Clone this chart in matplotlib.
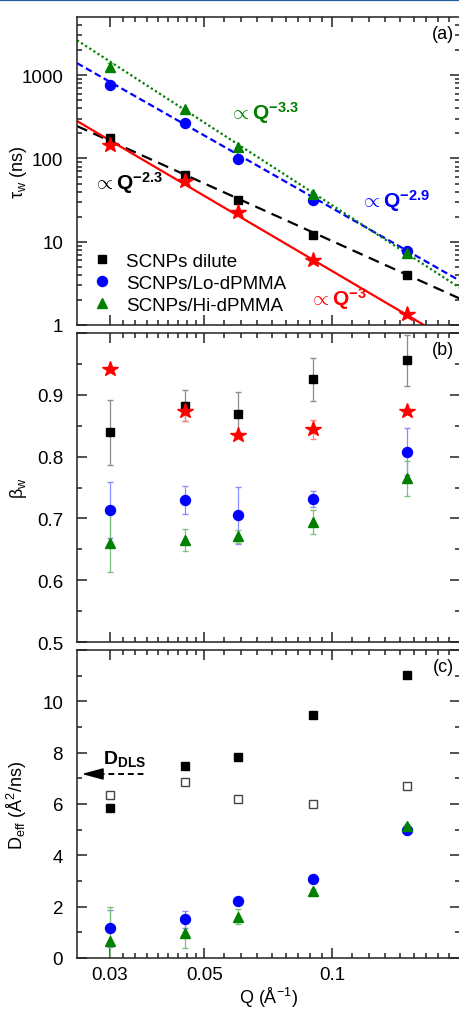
import numpy as np
import matplotlib
matplotlib.use("Agg")
import matplotlib.pyplot as plt
from matplotlib.ticker import FixedLocator, FixedFormatter
from matplotlib.lines import Line2D

plt.rcParams['font.family'] = ['Liberation Sans', 'DejaVu Sans']
plt.rcParams['mathtext.fontset'] = 'custom'
plt.rcParams['mathtext.rm'] = 'Liberation Sans'
plt.rcParams['mathtext.it'] = 'Liberation Sans:italic'
plt.rcParams['mathtext.bf'] = 'Liberation Sans:bold'

# scattering vectors (1/A)
q = [0.03, 0.045, 0.06, 0.09, 0.15]

# (a) relaxation times tau_w (ns)
tau_dilute = [174, 62.5, 32, 12.2, 4.0]
tau_lo = [760, 268, 98, 32, 7.7]
tau_hi = [1270, 398, 139, 37, 7.4]
tau_star = [147, 54, 23, 6.0, 1.34]
tau_hi_err = [150, 0, 0, 0, 0]

# power-law fits: prefactor, exponent
fit_pref = [0.0511, 0.0319, 0.01377, 0.00445]
fit_exp = [-2.3, -2.9, -3.3, -3.0]
fit_text = [r'$\propto\mathbf{Q^{-2.3}}$', r'$\propto\mathbf{Q^{-2.9}}$',
            r'$\propto\mathbf{Q^{-3.3}}$', r'$\propto\mathbf{Q^{-3}}$']

# (b) stretching exponents beta_w
beta_dilute = [0.839, 0.882, 0.869, 0.925, 0.956]
beta_dilute_err = [0.052, 0.025, 0.035, 0.035, 0.041]
beta_lo = [0.714, 0.730, 0.705, 0.732, 0.808]
beta_lo_err = [0.045, 0.023, 0.046, 0.013, 0.038]
beta_hi = [0.661, 0.665, 0.671, 0.694, 0.765]
beta_hi_err = [0.047, 0.018, 0.011, 0.019, 0.028]
beta_star = [0.941, 0.873, 0.835, 0.844, 0.874]
beta_star_err = [0.004, 0.015, 0.005, 0.015, 0.004]

# (c) effective diffusion coefficients (A^2/ns)
d_dilute = [5.86, 7.49, 7.84, 9.47, 11.03]
d_open = [6.35, 6.87, 6.19, 5.99, 6.70]
d_lo = [1.16, 1.51, 2.22, 3.08, 5.0]
d_lo_err = [0.72, 0.33, 0.1, 0.05, 0.05]
d_hi = [0.68, 0.97, 1.61, 2.62, 5.16]
d_hi_err = [1.32, 0.59, 0.3, 0.05, 0.05]
d_dls = 7.17

labels = ['SCNPs dilute', 'SCNPs/Lo-dPMMA', 'SCNPs/Hi-dPMMA']

W, H = 459, 1012
fig = plt.figure(figsize=(W / 100, H / 100), dpi=100)
fig.add_artist(Line2D([0, 1], [1 - 0.8 / H] * 2, color='#1f5ca8', lw=1.6))

left, right = 77 / W, 460 / W
ax_a = fig.add_axes([left, 1 - 326 / H, right - left, 308 / H])
ax_b = fig.add_axes([left, 1 - 643 / H, right - left, 309 / H])
ax_c = fig.add_axes([left, 1 - 959 / H, right - left, 308 / H])

xlim = (0.0251, 0.2)
minor_x = []
for a, b in [(0.03, 0.05), (0.05, 0.1), (0.1, 0.2)]:
    minor_x += list(np.linspace(a, b, 10)[1:-1])

for ax in (ax_a, ax_b, ax_c):
    ax.set_xscale('log')
    ax.set_xlim(*xlim)
    ax.xaxis.set_major_locator(FixedLocator([0.03, 0.05, 0.1]))
    ax.xaxis.set_major_formatter(FixedFormatter(['0.03', '0.05', '0.1']))
    ax.xaxis.set_minor_locator(FixedLocator(minor_x))
    ax.xaxis.set_minor_formatter(FixedFormatter([]))
    ax.tick_params(which='both', direction='in', top=True, right=True,
                   color='#222222', width=1.1, labelsize=13.5)
    ax.tick_params(which='major', length=7.5)
    ax.tick_params(which='minor', length=3.8)
    ax.tick_params(axis='y', pad=10)
    ax.tick_params(axis='x', pad=6)
    for s in ax.spines.values():
        s.set_linewidth(1.1)
        s.set_color('#222222')
    ax.yaxis.set_label_coords(-0.126, 0.5)

ax_a.tick_params(axis='x', labelbottom=False)
ax_b.tick_params(axis='x', labelbottom=False)

ms_sq, ms_ci, ms_tr, ms_st = 6.4, 7.2, 7.7, 11.5

# ---- (a) tau_w vs Q
qq = np.geomspace(xlim[0], xlim[1], 60)
fit_styles = [dict(color='black', ls=(0, (5, 3))),
              dict(color='blue', ls=(0, (3, 1.6))),
              dict(color='green', ls=(0, (1, 1.2))),
              dict(color='red', ls='-')]
for A, n, st in zip(fit_pref, fit_exp, fit_styles):
    ax_a.plot(qq, A * qq ** n, lw=1.6, **st, zorder=2)

ax_a.errorbar(q, tau_hi, yerr=tau_hi_err, fmt='none', ecolor='#66aa66',
              elinewidth=0.9, capsize=2.5, zorder=3)
h1, = ax_a.plot(q, tau_dilute, 's', color='black', ms=ms_sq, zorder=4)
h2, = ax_a.plot(q, tau_lo, 'o', color='blue', ms=ms_ci, zorder=4)
h3, = ax_a.plot(q, tau_hi, '^', color='green', ms=ms_tr, zorder=4)
ax_a.plot(q, tau_star, '*', color='red', ms=ms_st, zorder=5)

ax_a.set_yscale('log')
ax_a.set_ylim(1, 5000)
ax_a.yaxis.set_major_locator(FixedLocator([1, 10, 100, 1000]))
ax_a.yaxis.set_major_formatter(FixedFormatter(['1', '10', '100', '1000']))
ax_a.yaxis.set_minor_locator(FixedLocator(
    [m * 10 ** e for e in range(0, 4) for m in range(2, 10) if m * 10 ** e < 5000]))
ax_a.yaxis.set_minor_formatter(FixedFormatter([]))
ax_a.set_ylabel(r'$\mathregular{\tau_w}$ (ns)', fontsize=13)

# exponent labels next to the fit lines
text_pos = [(0.042, 0.442), (0.739, 0.383), (0.397, 0.669), (0.606, 0.065)]
for (x, y), s, st in zip(text_pos, fit_text, fit_styles):
    ax_a.text(x, y, s, transform=ax_a.transAxes, color=st['color'],
              fontsize=15, va='baseline')
ax_a.text(0.985, 0.945, '(a)', transform=ax_a.transAxes, ha='right', va='center',
          fontsize=13)

ax_a.legend([h1, h2, h3], labels, loc='lower left', bbox_to_anchor=(0.005, 0.0),
            frameon=False, fontsize=13.5, handlelength=1.3, handletextpad=0.6,
            labelspacing=0.26, borderaxespad=0.2)

# ---- (b) beta_w vs Q
ax_b.errorbar(q, beta_dilute, yerr=beta_dilute_err, fmt='none', ecolor='#8c8c8c',
              elinewidth=0.9, capsize=2.5, zorder=2)
ax_b.errorbar(q, beta_lo, yerr=beta_lo_err, fmt='none', ecolor='#8c8cff',
              elinewidth=0.9, capsize=2.5, zorder=2)
ax_b.errorbar(q, beta_hi, yerr=beta_hi_err, fmt='none', ecolor='#7fbf7f',
              elinewidth=0.9, capsize=2.5, zorder=2)
ax_b.errorbar(q, beta_star, yerr=beta_star_err, fmt='none', ecolor='#ff8080',
              elinewidth=0.9, capsize=2.5, zorder=2)
ax_b.plot(q, beta_dilute, 's', color='black', ms=ms_sq, zorder=4)
ax_b.plot(q, beta_lo, 'o', color='blue', ms=ms_ci, zorder=4)
ax_b.plot(q, beta_hi, '^', color='green', ms=ms_tr, zorder=4)
ax_b.plot(q, beta_star, '*', color='red', ms=ms_st, zorder=5)

ax_b.set_ylim(0.5, 1.0)
ax_b.yaxis.set_major_locator(FixedLocator([0.5, 0.6, 0.7, 0.8, 0.9, 1.0]))
ax_b.yaxis.set_major_formatter(FixedFormatter(['0.5', '0.6', '0.7', '0.8', '0.9', '']))
ax_b.yaxis.set_minor_locator(FixedLocator([0.55, 0.65, 0.75, 0.85, 0.95]))
ax_b.set_ylabel(r'$\mathregular{\beta_w}$', fontsize=13)
ax_b.text(0.985, 0.945, '(b)', transform=ax_b.transAxes, ha='right', va='center',
          fontsize=13)

# ---- (c) D_eff vs Q
ax_c.errorbar(q, d_lo, yerr=d_lo_err, fmt='none', ecolor='#8c8cff',
              elinewidth=0.9, capsize=2.5, zorder=2)
ax_c.errorbar(q, d_hi, yerr=d_hi_err, fmt='none', ecolor='#7fbf7f',
              elinewidth=0.9, capsize=2.5, zorder=2)
ax_c.plot(q, d_dilute, 's', color='black', ms=ms_sq, zorder=4)
ax_c.plot(q, d_open, 's', mfc='white', mec='#444444', mew=1.0, ms=ms_sq, zorder=4)
ax_c.plot(q, d_lo, 'o', color='blue', ms=ms_ci, zorder=4)
ax_c.plot(q, d_hi, '^', color='green', ms=ms_tr, zorder=5)

ax_c.set_ylim(0, 12)
ax_c.yaxis.set_major_locator(FixedLocator([0, 2, 4, 6, 8, 10, 12]))
ax_c.yaxis.set_major_formatter(FixedFormatter(['0', '2', '4', '6', '8', '10', '']))
ax_c.yaxis.set_minor_locator(FixedLocator([1, 3, 5, 7, 9, 11]))
ax_c.set_ylabel(r'$\mathregular{D_{eff}}$ ($\mathregular{\AA^2}$/ns)', fontsize=13)
ax_c.set_xlabel(r'Q ($\mathregular{\AA^{-1}}$)', fontsize=13, labelpad=1)
ax_c.text(0.985, 0.945, '(c)', transform=ax_c.transAxes, ha='right', va='center',
          fontsize=13)

# D_DLS marker on the left axis: dashed shaft plus solid head
ax_c.plot([0.0268, 0.0367], [d_dls, d_dls], color='black', lw=1.4,
          ls=(0, (3, 2)), zorder=3)
ax_c.annotate('', xy=(0.02575, d_dls), xytext=(0.0275, d_dls),
              arrowprops=dict(arrowstyle='-|>,head_length=1.3,head_width=0.35',
                              mutation_scale=10, color='black', lw=1.2,
                              shrinkA=0, shrinkB=0))
ax_c.text(0.0289, d_dls + 0.42, r'$\mathbf{D_{DLS}}$', fontsize=14, va='baseline')

fig.savefig('out.png', dpi=100)
